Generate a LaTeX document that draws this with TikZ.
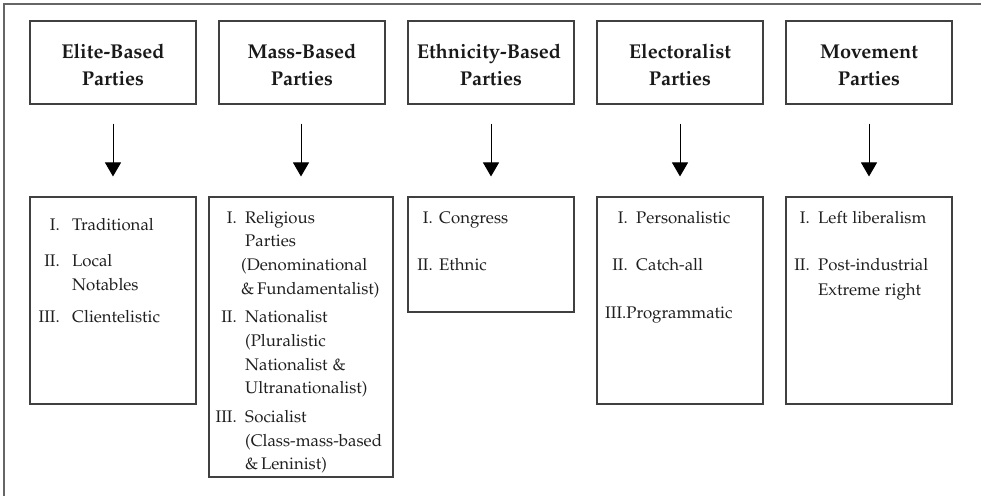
\documentclass[tikz,border=0pt]{standalone}
\usepackage[T1]{fontenc}
\usepackage{mathpazo}
\newcommand\bodyfont{\fontencoding{T1}\fontfamily{pplx}\fontseries{m}\fontshape{n}\fontsize{16.8}{24}\selectfont}
\newcommand\hdfont{\fontencoding{T1}\fontfamily{pplx}\fontseries{b}\fontshape{n}\fontsize{20}{27}\selectfont}
\usetikzlibrary{arrows.meta}
\begin{document}
\begin{tikzpicture}[x=1pt,y=-1pt,
  frame/.style={draw=black!60, line width=1.5pt},
  head/.style={draw=black!75, line width=1.1pt, minimum width=166pt, minimum height=83pt, inner sep=0pt},
  htext/.style={anchor=base, inner sep=0pt, font=\hdfont, text=black!90},
  listbox/.style={draw=black!75, line width=1.1pt, inner sep=0pt},
  num/.style={anchor=base east, inner sep=0pt, font=\bodyfont, text=black!88},
  item/.style={anchor=base west, inner sep=0pt, font=\bodyfont, text=black!88},
  flow/.style={line width=1pt, -{Triangle[width=16pt,length=14pt]}, shorten <=19pt, shorten >=20pt}]
\useasboundingbox (0,0) rectangle (981,496);
\draw[frame] (4,496) -- (4,4) -- (981,4);
% headers
\node[head] (h1) at (113,62.5) {};
\node[head] (h2) at (302,62.5) {};
\node[head] (h3) at (491,62.5) {};
\node[head] (h4) at (680,62.5) {};
\node[head] (h5) at (869,62.5) {};
\node[htext] (h1a) at (113,58) {Elite-Based};
\node[htext] (h1b) at (113,85) {Parties};
\node[htext] (h2a) at (302,58) {Mass-Based};
\node[htext] (h2b) at (302,85) {Parties};
\node[htext] (h3a) at (489,58) {Ethnicity-Based};
\node[htext] (h3b) at (491,85) {Parties};
\node[htext] (h4a) at (680,58) {Electoralist};
\node[htext] (h4b) at (680,85) {Parties};
\node[htext] (h5a) at (869,58) {Movement};
\node[htext] (h5b) at (869,85) {Parties};
% list boxes
\node[listbox, minimum width=166pt, minimum height=207pt] (l1) at (113,300.5) {};
\node[listbox, minimum width=184pt, minimum height=280pt] (l2) at (301,337) {};
\node[listbox, minimum width=166pt, minimum height=115pt] (l3) at (491,254.5) {};
\node[listbox, minimum width=166pt, minimum height=207pt] (l4) at (680,300.5) {};
\node[listbox, minimum width=166pt, minimum height=207pt] (l5) at (869,300.5) {};
% arrows
\draw[flow] (h1.south) -- (h1.south |- l1.north);
\draw[flow] (h2.south -| l2.north) -- (l2.north);
\draw[flow] (h3.south) -- (l3.north);
\draw[flow] (h4.south) -- (l4.north);
\draw[flow] (h5.south) -- (l5.north);
% Elite list
\node[num] (e1n) at (60,230) {I.};
\node[item] (e1) at (72,230) {Traditional};
\node[num] (e2n) at (60,266) {II.};
\node[item] (e2) at (72,266) {Local};
\node[item] (e2b) at (72,290) {Notables};
\node[num] (e3n) at (60,322) {III.};
\node[item] (e3) at (72,322) {Clientelistic};
% Mass list
\node[num] (m1n) at (237,223) {I.};
\node[item] (m1) at (245,223) {Religious};
\node[item] (m1b) at (245,246) {Parties};
\node[item] (m1c) at (241,270) {(Denominational};
\node[item] (m1d) at (241,294) {\&\,Fundamentalist)};
\node[num] (m2n) at (237,322) {II.};
\node[item] (m2) at (245,322) {Nationalist};
\node[item] (m2b) at (245,346) {(Pluralistic};
\node[item] (m2c) at (245,370) {Nationalist \&};
\node[item] (m2d) at (245,393) {Ultranationalist)};
\node[num] (m3n) at (237,422) {III.};
\node[item] (m3) at (245,422) {Socialist};
\node[item] (m3b) at (245,446) {(Class-mass-based};
\node[item] (m3c) at (245,469) {\&\,Leninist)};
% Ethnicity list
\node[num] (t1n) at (433,223) {I.};
\node[item] (t1) at (439,223) {Congress};
\node[num] (t2n) at (433,270) {II.};
\node[item] (t2) at (439,270) {Ethnic};
% Electoralist list
\node[num] (c1n) at (628,223) {I.};
\node[item] (c1) at (636,223) {Personalistic};
\node[num] (c2n) at (628,270) {II.};
\node[item] (c2) at (636,270) {Catch-all};
\node[item] (c3) at (605,318) {III.Programmatic};
% Movement list
\node[num] (v1n) at (810,223) {I.};
\node[item] (v1) at (818,223) {Left liberalism};
\node[num] (v2n) at (810,270) {II.};
\node[item] (v2) at (818,270) {Post-industrial};
\node[item] (v2b) at (818,295) {Extreme right};
\end{tikzpicture}
\end{document}
